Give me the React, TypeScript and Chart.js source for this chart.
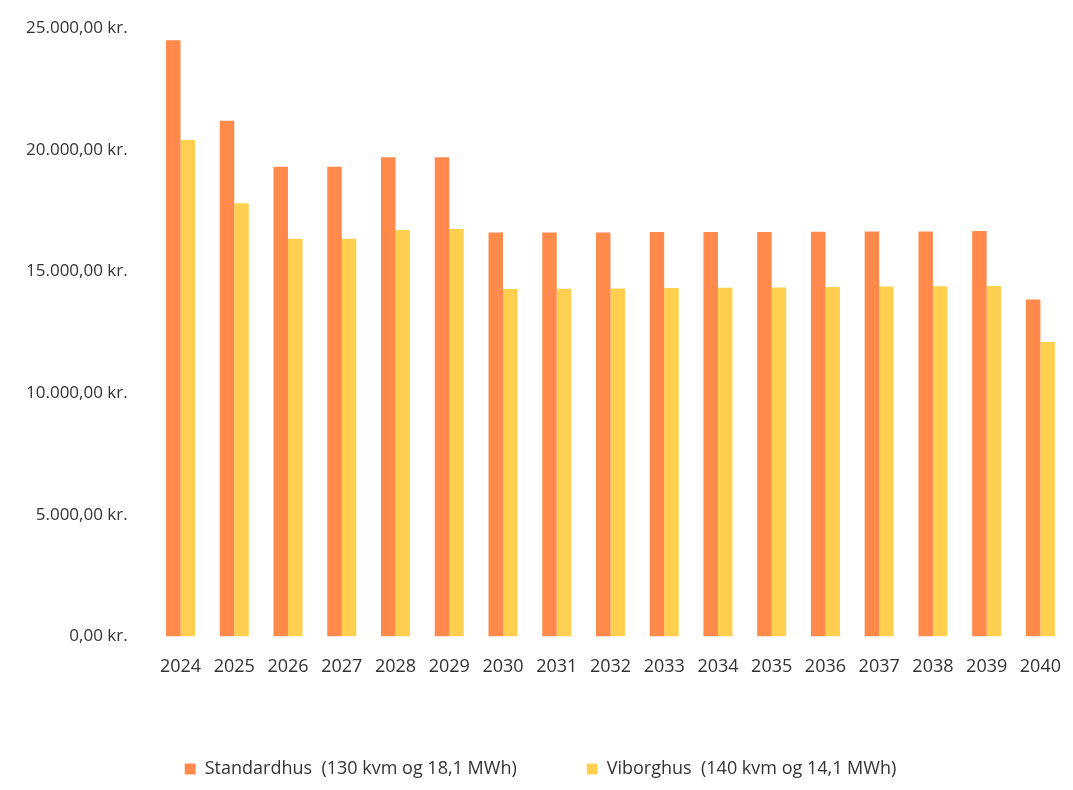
import React, { useEffect, useRef } from "react";
import { Chart, registerables } from "chart.js";

Chart.register(...registerables);

const years = ["2024", "2025", "2026", "2027", "2028", "2029", "2030", "2031", "2032", "2033", "2034", "2035", "2036", "2037", "2038", "2039", "2040"];
const standardhus = [24500, 21200, 19300, 19300, 19700, 19700, 16600, 16600, 16600, 16620, 16620, 16620, 16630, 16640, 16640, 16660, 13850];
const viborghus = [20400, 17800, 16350, 16350, 16700, 16750, 14280, 14290, 14300, 14320, 14330, 14340, 14360, 14380, 14390, 14400, 12100];

const fmt = (v: number) =>
    v.toLocaleString("da-DK", { minimumFractionDigits: 2, maximumFractionDigits: 2 }) + " kr.";

export default function App() {
    const ref = useRef<HTMLCanvasElement | null>(null);

    useEffect(() => {
        if (!ref.current) return;
        document.body.style.margin = "0";
        const chart = new Chart(ref.current, {
            type: "bar",
            data: {
                labels: years,
                datasets: [
                    {
                        label: "Standardhus  (130 kvm og 18,1 MWh)",
                        data: standardhus,
                        backgroundColor: "#FF8A4C",
                        barPercentage: 1,
                        categoryPercentage: 0.54,
                    },
                    {
                        label: "Viborghus  (140 kvm og 14,1 MWh)",
                        data: viborghus,
                        backgroundColor: "#FFD050",
                        barPercentage: 1,
                        categoryPercentage: 0.54,
                    },
                ],
            },
            options: {
                responsive: false,
                animation: false,
                layout: { padding: { left: 8, right: 0, top: 14, bottom: 2 } },
                plugins: {
                    legend: {
                        position: "bottom",
                        labels: {
                            boxWidth: 11,
                            boxHeight: 11,
                            padding: 70,
                            color: "#333",
                            font: { family: "Open Sans", size: 18 },
                        },
                    },
                    tooltip: { enabled: false },
                },
                scales: {
                    x: {
                        grid: { display: false },
                        border: { display: false },
                        ticks: { color: "#333", font: { family: "Open Sans", size: 18 }, maxRotation: 0, padding: 12 },
                    },
                    y: {
                        min: 0,
                        max: 25000,
                        grid: { display: false },
                        border: { display: false },
                        ticks: {
                            stepSize: 5000,
                            color: "#333",
                            padding: 18,
                            font: { family: "Open Sans", size: 17 },
                            callback: (v) => fmt(Number(v)),
                        },
                    },
                },
            },
        });
        return () => chart.destroy();
    }, []);

    return <canvas ref={ref} width={1073} height={790} />;
}
